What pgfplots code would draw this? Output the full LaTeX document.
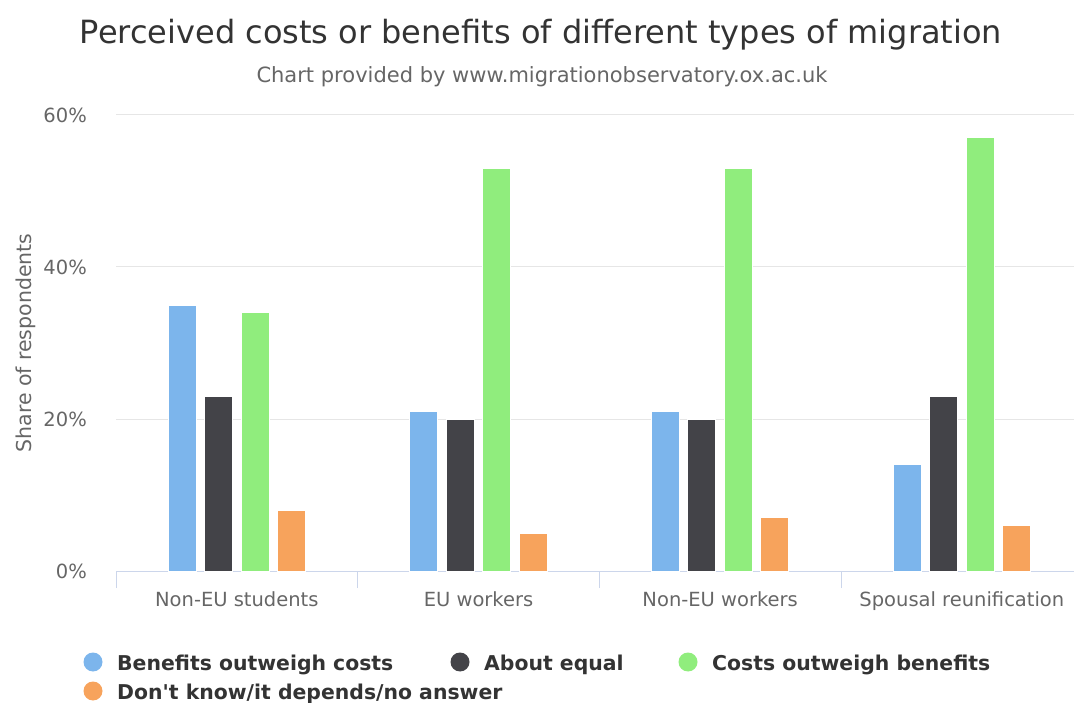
\documentclass[border=0pt]{standalone}
\usepackage{fontspec}
\setmainfont{DejaVu Sans}
\usepackage{pgfplots}
\pgfplotsset{compat=1.18}
\definecolor{cblue}{HTML}{7CB5EC}
\definecolor{cblack}{HTML}{434348}
\definecolor{cgreen}{HTML}{90ED7D}
\definecolor{corange}{HTML}{F7A35C}
\definecolor{ctitle}{HTML}{333333}
\definecolor{clabel}{HTML}{666666}
\definecolor{caxis}{HTML}{CCD6EB}
\definecolor{cgrid}{HTML}{E6E6E6}
\begin{document}
\begin{tikzpicture}[x=1pt,y=1pt]
\path[use as bounding box] (0,0) rectangle (1074,702);
\clip (0,0) rectangle (1074,702);
\node[anchor=base, text=ctitle, font=\fontsize{32}{38}\selectfont] at (541,658) {Perceived costs or benefits of different types of migration};
\node[anchor=base, text=clabel, font=\fontsize{21}{25}\selectfont] at (542,619) {Chart provided by www.migrationobservatory.ox.ac.uk};
\begin{axis}[
  at={(116pt,131pt)}, anchor=south west,
  scale only axis, width=966.67pt, height=456pt,
  xmin=-0.5, xmax=3.5, ymin=0, ymax=60,
  ybar, bar width=28pt,
  axis lines*=left,
  x axis line style={caxis, line width=1pt, -},
  y axis line style={draw=none},
  major tick length=0pt,
  xtick={0,1,2,3},
  xticklabels={Non-EU students, EU workers, Non-EU workers, Spousal reunification},
  extra x ticks={-0.5,0.5,1.5,2.5,3.5},
  extra x tick labels={},
  extra x tick style={major tick length=17pt, tick align=outside, xtick style={caxis, line width=1pt}},
  ytick={0,20,40,60},
  yticklabels={0\%,20\%,40\%,60\%},
  ytick style={draw=none},
  ymajorgrids, grid style={cgrid, line width=1pt},
  tick label style={font=\fontsize{19.5}{23}\selectfont, text=clabel},
  yticklabel style={anchor=east, inner sep=0pt, xshift=-29pt},
  xticklabel style={anchor=base, inner sep=0pt, yshift=-35pt},
  ylabel={Share of respondents},
  ylabel style={at={(axis description cs:-0.0869,0.5)}, anchor=base, font=\fontsize{20.5}{24}\selectfont, text=clabel},
]
\addplot[fill=cblue, draw=white, line width=1pt, bar shift=-54.75pt] coordinates {(0,35) (1,21) (2,21) (3,14)};
\addplot[fill=cblack, draw=white, line width=1pt, bar shift=-18.25pt] coordinates {(0,23) (1,20) (2,20) (3,23)};
\addplot[fill=cgreen, draw=white, line width=1pt, bar shift=18.25pt] coordinates {(0,34) (1,53) (2,53) (3,57)};
\addplot[fill=corange, draw=white, line width=1pt, bar shift=54.75pt] coordinates {(0,8) (1,5) (2,7) (3,6)};
\end{axis}
\fill[cblue] (93,40) circle (9.5);
\node[anchor=base west, inner sep=0pt, text=ctitle, font=\fontsize{20.4}{24}\selectfont\bfseries] at (117,32) {Benefits outweigh costs};
\fill[cblack] (460,40) circle (9.5);
\node[anchor=base west, inner sep=0pt, text=ctitle, font=\fontsize{20.4}{24}\selectfont\bfseries] at (484,32) {About equal};
\fill[cgreen] (688,40) circle (9.5);
\node[anchor=base west, inner sep=0pt, text=ctitle, font=\fontsize{20.4}{24}\selectfont\bfseries] at (712,32) {Costs outweigh benefits};
\fill[corange] (93,11) circle (9.5);
\node[anchor=base west, inner sep=0pt, text=ctitle, font=\fontsize{20.4}{24}\selectfont\bfseries] at (117,3) {Don\textquotesingle t know/it depends/no answer};
\end{tikzpicture}
\end{document}
